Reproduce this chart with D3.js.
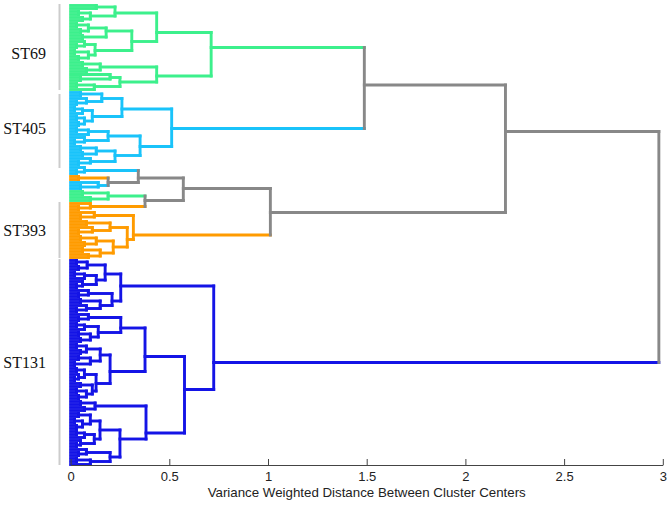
<!DOCTYPE html>
<html>
<head>
<meta charset="utf-8">
<script src="https://cdn.jsdelivr.net/npm/d3@7"></script>
<style>
  html, body { margin: 0; padding: 0; background: #fff; }
  svg { display: block; }
</style>
</head>
<body>
<svg id="chart" width="671" height="505"></svg>
<script>
// ---------------- DATA ----------------
// node = [mergeHeight, leftChild, rightChild]; leaf = sequence-type code
// g = ST69, c = ST405, o = ST393, b = ST131
const st69Tree = [0.712,
  [0.436,
    [0.225, [0.13, "g", "g"], [0.10, [0.04, "g", "g"], [0.06, "g", "g"]]],
    [0.31,
      [0.18, [0.09, [0.03, "g", "g"], [0.05, "g", "g"]], [0.06, "g", "g"]],
      [0.124, [0.07, "g", [0.03, "g", "g"]], [0.09, [0.02, "g", "g"], [0.04, "g", "g"]]]]],
  [0.436,
    [0.15, [0.06, "g", "g"], [0.08, "g", "g"]],
    [0.25, [0.20, "g", [0.05, "g", "g"]], [0.12, [0.03, "g", "g"], "g"]]]];

const st405Tree = [0.512,
  [0.26,
    [0.158, [0.05, "c", "c"], [0.08, "c", [0.03, "c", "c"]]],
    [0.11, [0.06, [0.02, "c", "c"], "c"], [0.07, [0.03, "c", "c"], [0.04, "c", "c"]]]],
  [0.352,
    [0.19, [0.09, [0.03, "c", "c"], "c"], [0.07, "c", [0.02, "c", "c"]]],
    [0.225, [0.13, [0.05, "c", "c"], [0.06, "c", "c"]], [0.10, "c", [0.04, "c", "c"]]]]];

const mixedTree = [0.571,
  [0.343,
    [0.07, "c", [0.03, "c", "c"]],
    [0.19, [0.04, "o", "o"], [0.14, "c", [0.05, "c", "c"]]]],
  [0.377,
    [0.19, [0.06, "g", "g"], [0.10, "g", "g"]],
    [0.10, "o", [0.04, "o", "o"]]]];

const st393Tree = [0.318,
  [0.12, "o", [0.05, "o", "o"]],
  [0.287,
    [0.20, [0.08, "o", "o"], [0.11, "o", [0.04, "o", "o"]]],
    [0.216, [0.13, [0.05, "o", "o"], [0.07, "o", "o"]], [0.15, [0.06, "o", "o"], [0.09, "o", "o"]]]]];

const st131Tree = [0.725,
  [0.254,
    [0.175,
      [0.084, [0.03, "b", "b"], [0.04, "b", "b"]],
      [0.13, [0.07, [0.02, "b", "b"], "b"], [0.06, "b", [0.03, "b", "b"]]]],
    [0.21, [0.09, "b", [0.04, "b", "b"]], [0.15, [0.05, "b", "b"], [0.08, "b", [0.03, "b", "b"]]]]],
  [0.577,
    [0.377,
      [0.254,
        [0.09, "b", [0.04, "b", "b"]],
        [0.14, [0.07, [0.03, "b", "b"], "b"], [0.10, [0.04, "b", "b"], [0.05, "b", "b"]]]],
      [0.20,
        [0.15, [0.08, [0.03, "b", "b"], [0.05, "b", "b"]], [0.10, [0.04, "b", "b"], [0.02, "b", "b"]]],
        [0.129, [0.07, [0.03, "b", "b"], [0.04, "b", [0.02, "b", "b"]]],
                [0.11, [0.05, "b", "b"], [0.08, [0.03, "b", "b"], [0.04, "b", "b"]]]]]],
    [0.382,
      [0.124, [0.05, "b", "b"], [0.07, "b", "b"]],
      [0.25,
        [0.149, [0.10, [0.04, "b", "b"], [0.06, [0.02, "b", "b"], [0.03, "b", "b"]]],
                [0.12, [0.07, [0.03, "b", "b"], "b"], [0.05, "b", [0.03, "b", "b"]]]],
        [0.20, [0.08, "b", [0.04, "b", "b"]], [0.10, [0.03, "b", "b"], "b"]]]]]];

// upper merge heights
const upperHeights = { st69_st405: 1.488, mixed_st393: 1.012, top: 2.203, root: 2.98 };

const fullTree = [upperHeights.root,
  [upperHeights.top,
    [upperHeights.st69_st405, st69Tree, st405Tree],
    [upperHeights.mixed_st393, mixedTree, st393Tree]],
  st131Tree];

const axisTicks = [0, 0.5, 1, 1.5, 2, 2.5, 3];
const axisTitle = "Variance Weighted Distance Between Cluster Centers";
const groupNames = ["ST69", "ST405", "ST393", "ST131"];
const groupFirstLeaf = [0, 30, 66, 85];
const groupLastLeaf = [28, 54, 84, 153];
const groupLabelLeaf = [16, 41, 75, 119];

// ---------------- STYLE ----------------
const colorOf = { g: "#3cf08c", c: "#19c3fa", o: "#ff9b00", b: "#1414e6" };
const mixedColor = "#888888";

// ---------------- LAYOUT ----------------
const svg = d3.select("#chart");
const root = d3.hierarchy(fullTree, d => Array.isArray(d) ? d.slice(1) : null);
const leaves = root.leaves();
const N = leaves.length;

const x = d3.scaleLinear().domain([0, 3]).range([70.6, 662.8]);
const y = d3.scaleLinear().domain([0, N - 1]).range([5.5, 464.5]);
const axisY = 465;

leaves.forEach((l, i) => l.idx = i);
root.eachAfter(n => {
  n.h = Array.isArray(n.data) ? n.data[0] : 0;
  const ls = n.leaves();
  n.yy = d3.mean(ls, l => y(l.idx));
  const codes = new Set(ls.map(l => l.data));
  n.col = codes.size === 1 ? colorOf[[...codes][0]] : mixedColor;
});

// group brackets
const gBr = svg.append("g");
groupNames.forEach((name, i) => {
  gBr.append("line")
    .attr("x1", 59.5).attr("x2", 59.5)
    .attr("y1", y(groupFirstLeaf[i]) - 1.5).attr("y2", y(groupLastLeaf[i]) + 0.5)
    .attr("stroke", "#cccccc").attr("stroke-width", 2);
  gBr.append("text")
    .attr("x", 46).attr("y", y(groupLabelLeaf[i]))
    .attr("dy", "0.35em")
    .attr("text-anchor", "end")
    .attr("font-family", "Liberation Serif, Times New Roman, serif")
    .attr("font-size", 16)
    .attr("fill", "#111")
    .text(name);
});

// dendrogram
const gD = svg.append("g")
  .attr("fill", "none")
  .attr("stroke-width", 2.9)
  .attr("stroke-linecap", "square");

const nodes = root.descendants();
nodes.filter(n => n.parent).forEach(n => {
  gD.append("line")
    .attr("x1", x(n.h)).attr("x2", x(n.parent.h))
    .attr("y1", n.yy).attr("y2", n.yy)
    .attr("stroke", n.col);
});
nodes.filter(n => n.children).forEach(n => {
  gD.append("line")
    .attr("x1", x(n.h)).attr("x2", x(n.h))
    .attr("y1", n.children[0].yy).attr("y2", n.children[1].yy)
    .attr("stroke", n.col);
});

// axis
const axis = d3.axisBottom(x)
  .tickValues(axisTicks)
  .tickFormat(d3.format("~g"))
  .tickSizeInner(-6)
  .tickSizeOuter(0)
  .tickPadding(7);

const gA = svg.append("g")
  .attr("transform", `translate(0,${axisY})`)
  .call(axis);
gA.select(".domain").attr("stroke", "#444").attr("stroke-width", 1.2);
gA.selectAll(".tick line").attr("stroke", "#444").attr("stroke-width", 1);
gA.selectAll(".tick text")
  .attr("font-family", "Liberation Sans, Arial, Helvetica, sans-serif")
  .attr("font-size", 13)
  .attr("fill", "#222");

svg.append("text")
  .attr("x", (x(0) + x(3)) / 2)
  .attr("y", 497)
  .attr("text-anchor", "middle")
  .attr("font-family", "Liberation Sans, Arial, Helvetica, sans-serif")
  .attr("font-size", 13.3)
  .attr("fill", "#222")
  .text(axisTitle);
</script>
</body>
</html>
